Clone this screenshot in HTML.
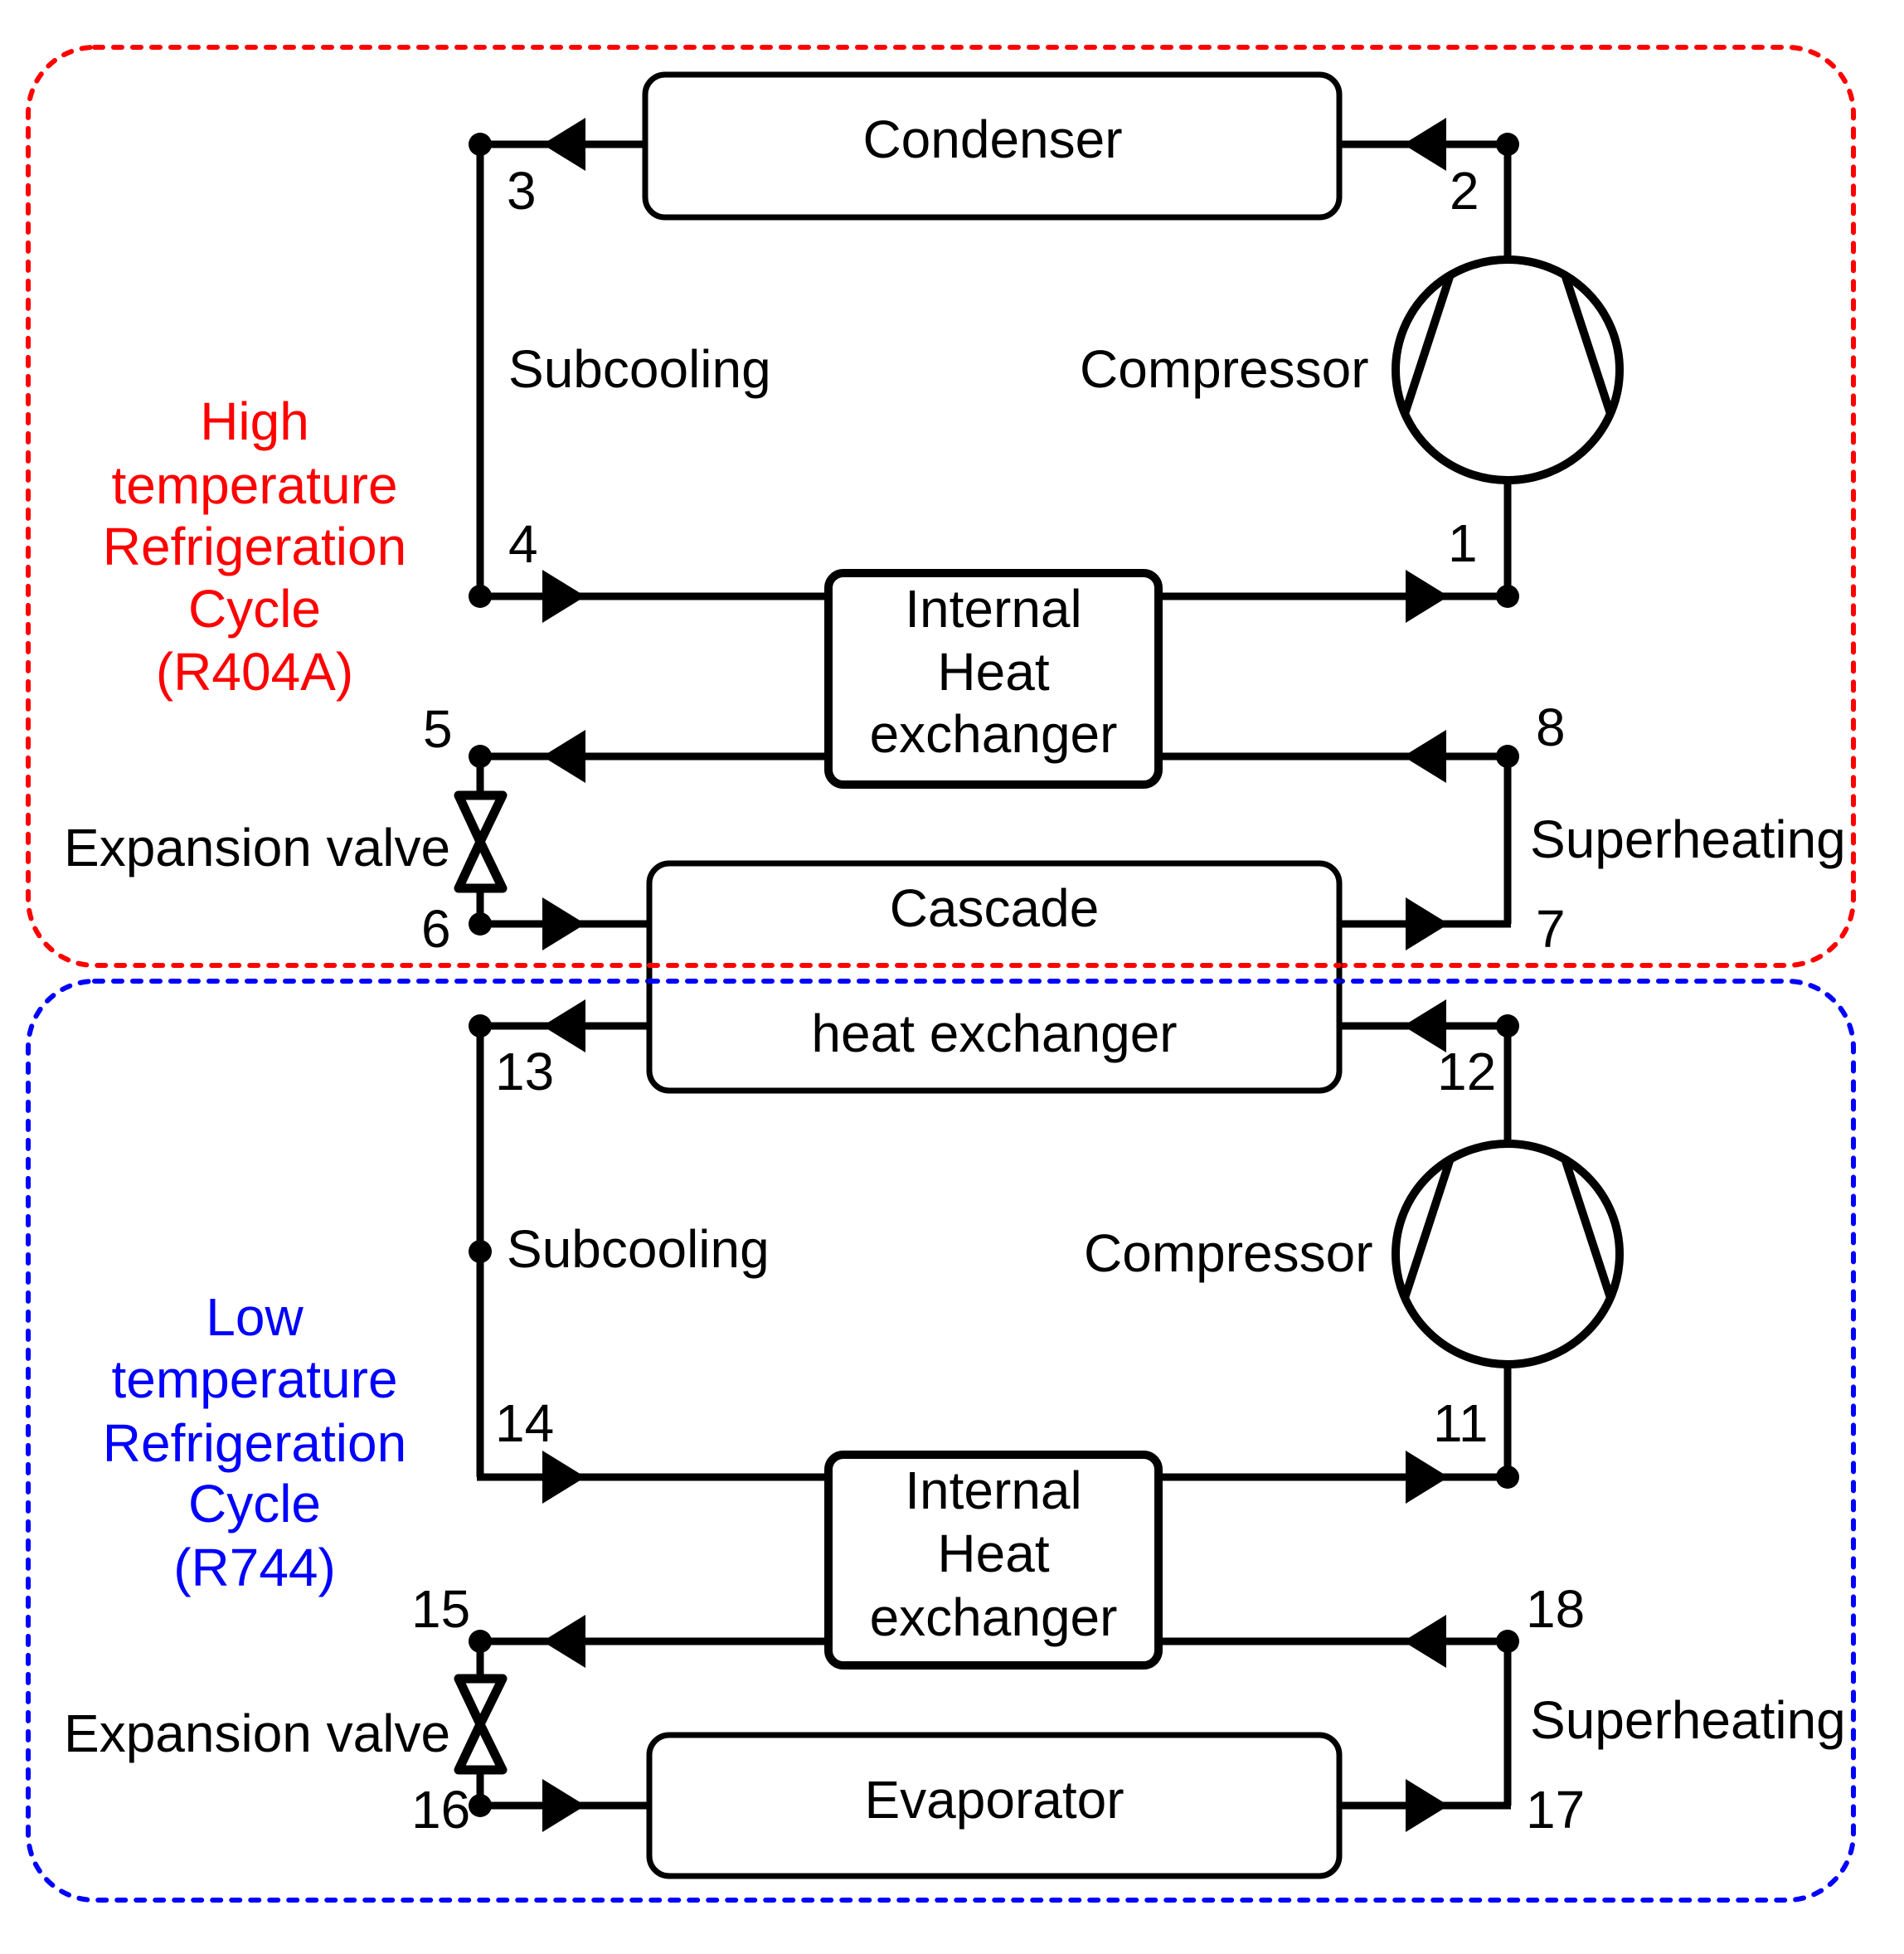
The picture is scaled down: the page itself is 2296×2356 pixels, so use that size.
<!DOCTYPE html>
<html><head><meta charset="utf-8"><style>
html,body{margin:0;padding:0;background:#fff;}
svg{display:block;}
text{font-family:"Liberation Sans",Arial,sans-serif;font-size:64px;}
</style></head><body>
<svg width="2296" height="2356" viewBox="0 0 2296 2356" xmlns="http://www.w3.org/2000/svg">
<defs>
<polygon id="al" points="0,0 52,-32 52,32" fill="#000"/>
<polygon id="ar" points="0,-32 52,0 0,32" fill="#000"/>
</defs>
<!-- dashed group boxes -->
<rect x="34" y="57" width="2201" height="1107" rx="80" fill="none" stroke="#f00" stroke-width="6" stroke-dasharray="10 13" stroke-linecap="round"/>
<rect x="34" y="1183" width="2201" height="1108" rx="80" fill="none" stroke="#00f" stroke-width="6" stroke-dasharray="10 13" stroke-linecap="round"/>

<g stroke="#000" stroke-width="9" fill="none">
<!-- top cycle -->
<line x1="579" y1="174" x2="778" y2="174"/>
<line x1="1615" y1="174" x2="1818" y2="174"/>
<line x1="579" y1="174" x2="579" y2="719"/>
<line x1="579" y1="719" x2="999" y2="719"/>
<line x1="1397" y1="719" x2="1818" y2="719"/>
<line x1="1818" y1="174" x2="1818" y2="312"/>
<line x1="1818" y1="580" x2="1818" y2="719"/>
<line x1="579" y1="912" x2="999" y2="912"/>
<line x1="1397" y1="912" x2="1818" y2="912"/>
<line x1="1818" y1="912" x2="1818" y2="1114"/>
<line x1="1615" y1="1114" x2="1822" y2="1114"/>
<line x1="579" y1="1114" x2="783" y2="1114"/>
<line x1="579" y1="912" x2="579" y2="960"/>
<line x1="579" y1="1070" x2="579" y2="1114"/>
<!-- bottom cycle -->
<line x1="579" y1="1237" x2="783" y2="1237"/>
<line x1="1615" y1="1237" x2="1818" y2="1237"/>
<line x1="579" y1="1237" x2="579" y2="1781"/>
<line x1="575" y1="1781" x2="999" y2="1781"/>
<line x1="1397" y1="1781" x2="1818" y2="1781"/>
<line x1="1818" y1="1237" x2="1818" y2="1378"/>
<line x1="1818" y1="1646" x2="1818" y2="1781"/>
<line x1="579" y1="1979" x2="999" y2="1979"/>
<line x1="1397" y1="1979" x2="1818" y2="1979"/>
<line x1="1818" y1="1979" x2="1818" y2="2177"/>
<line x1="1615" y1="2177" x2="1822" y2="2177"/>
<line x1="579" y1="2177" x2="783" y2="2177"/>
<line x1="579" y1="1979" x2="579" y2="2024"/>
<line x1="579" y1="2134" x2="579" y2="2177"/>
</g>

<!-- boxes -->
<g fill="#fff" stroke="#000">
<rect x="778" y="90" width="837" height="172" rx="24" stroke-width="7"/>
<rect x="999" y="691" width="398" height="255" rx="18" stroke-width="10"/>
<rect x="783" y="1041" width="832" height="274" rx="24" stroke-width="7"/>
<rect x="999" y="1754" width="398" height="254" rx="18" stroke-width="10"/>
<rect x="783" y="2092" width="832" height="170" rx="24" stroke-width="7"/>
</g>
<!-- dashed lines pass over cascade -->
<line x1="783" y1="1164" x2="1615" y2="1164" stroke="#f00" stroke-width="6" stroke-dasharray="10 13" stroke-linecap="round"/>
<line x1="783" y1="1183" x2="1615" y2="1183" stroke="#00f" stroke-width="6" stroke-dasharray="10 13" stroke-linecap="round"/>

<!-- compressors -->
<g fill="none" stroke="#000" stroke-width="10">
<ellipse cx="1818" cy="446" rx="135" ry="133"/>
<line x1="1748" y1="334" x2="1694" y2="499"/>
<line x1="1888" y1="334" x2="1942" y2="499"/>
<ellipse cx="1818" cy="1512" rx="135" ry="133"/>
<line x1="1748" y1="1400" x2="1694" y2="1565"/>
<line x1="1888" y1="1400" x2="1942" y2="1565"/>
</g>

<!-- valves -->
<g fill="#fff" stroke="#000" stroke-width="11" stroke-linejoin="round">
<polygon points="553,959 606,959 579,1015 606,1071 553,1071 579,1015"/>
<polygon points="553,2024 606,2024 579,2079 606,2134 553,2134 579,2079"/>
</g>

<!-- arrows -->
<use href="#al" x="654" y="174"/>
<use href="#al" x="1692" y="174"/>
<use href="#ar" x="654" y="719"/>
<use href="#ar" x="1695" y="719"/>
<use href="#al" x="654" y="912"/>
<use href="#al" x="1692" y="912"/>
<use href="#ar" x="654" y="1114"/>
<use href="#ar" x="1695" y="1114"/>
<use href="#al" x="654" y="1237"/>
<use href="#al" x="1692" y="1237"/>
<use href="#ar" x="654" y="1781"/>
<use href="#ar" x="1695" y="1781"/>
<use href="#al" x="654" y="1979"/>
<use href="#al" x="1692" y="1979"/>
<use href="#ar" x="654" y="2177"/>
<use href="#ar" x="1695" y="2177"/>

<!-- dots -->
<g fill="#000">
<circle cx="579" cy="174" r="14"/><circle cx="1818" cy="174" r="14"/>
<circle cx="579" cy="719" r="14"/><circle cx="1818" cy="719" r="14"/>
<circle cx="579" cy="912" r="14"/><circle cx="1818" cy="912" r="14"/>
<circle cx="579" cy="1114" r="14"/>
<circle cx="579" cy="1237" r="14"/><circle cx="1818" cy="1237" r="14"/>
<circle cx="579" cy="1509" r="14"/>
<circle cx="1818" cy="1781" r="14"/>
<circle cx="579" cy="1979" r="14"/><circle cx="1818" cy="1979" r="14"/>
<circle cx="579" cy="2177" r="14"/>
</g>

<!-- text -->
<g fill="#000">
<text x="1197" y="190" text-anchor="middle">Condenser</text>
<text x="613" y="467">Subcooling</text>
<text x="1302" y="467">Compressor</text>
<text x="1198" y="756" text-anchor="middle">Internal</text>
<text x="1198" y="832" text-anchor="middle">Heat</text>
<text x="1198" y="907" text-anchor="middle">exchanger</text>
<text x="77" y="1044">Expansion valve</text>
<text x="1845" y="1034">Superheating</text>
<text x="1199" y="1117" text-anchor="middle">Cascade</text>
<text x="1199" y="1268" text-anchor="middle">heat exchanger</text>
<text x="611" y="1528">Subcooling</text>
<text x="1307" y="1533">Compressor</text>
<text x="1198" y="1819" text-anchor="middle">Internal</text>
<text x="1198" y="1895" text-anchor="middle">Heat</text>
<text x="1198" y="1972" text-anchor="middle">exchanger</text>
<text x="77" y="2112">Expansion valve</text>
<text x="1845" y="2096">Superheating</text>
<text x="1199" y="2192" text-anchor="middle">Evaporator</text>
<text x="611" y="252">3</text>
<text x="1748" y="252">2</text>
<text x="613" y="678">4</text>
<text x="1746" y="677">1</text>
<text x="510" y="901">5</text>
<text x="1852" y="899">8</text>
<text x="508" y="1142">6</text>
<text x="1852" y="1142">7</text>
<text x="597" y="1314">13</text>
<text x="1733" y="1314">12</text>
<text x="597" y="1738">14</text>
<text x="1728" y="1738">11</text>
<text x="496" y="1962">15</text>
<text x="1840" y="1962">18</text>
<text x="496" y="2204">16</text>
<text x="1840" y="2204">17</text>
</g>
<g fill="#f00" text-anchor="middle">
<text x="307" y="530">High</text>
<text x="307" y="607">temperature</text>
<text x="307" y="681">Refrigeration</text>
<text x="307" y="756">Cycle</text>
<text x="307" y="832">(R404A)</text>
</g>
<g fill="#00f" text-anchor="middle">
<text x="307" y="1610">Low</text>
<text x="307" y="1685">temperature</text>
<text x="307" y="1762">Refrigeration</text>
<text x="307" y="1835">Cycle</text>
<text x="307" y="1912">(R744)</text>
</g>
</svg>
</body></html>
